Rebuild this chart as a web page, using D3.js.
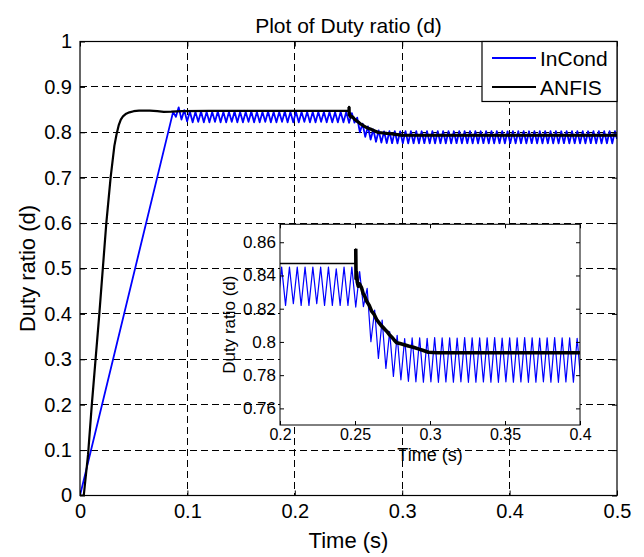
<!DOCTYPE html>
<html><head><meta charset="utf-8">
<script src="https://cdn.jsdelivr.net/npm/d3@7"></script>
<style>
body{margin:0;background:#fff}
text{font-family:"Liberation Sans",Arial,Helvetica,sans-serif;fill:#000}
</style>
</head><body>
<svg id="c" width="644" height="557"></svg>
<script>
// ---------------- data ----------------
const xTicks = [0, 0.1, 0.2, 0.3, 0.4, 0.5];
const xTickLabels = ["0", "0.1", "0.2", "0.3", "0.4", "0.5"];
const yTicks = [0, 0.1, 0.2, 0.3, 0.4, 0.5, 0.6, 0.7, 0.8, 0.9, 1];
const yTickLabels = ["0", "0.1", "0.2", "0.3", "0.4", "0.5", "0.6", "0.7", "0.8", "0.9", "1"];
const insetXTicks = [0.2, 0.25, 0.3, 0.35, 0.4];
const insetXTickLabels = ["0.2", "0.25", "0.3", "0.35", "0.4"];
const insetYTicks = [0.76, 0.78, 0.8, 0.82, 0.84, 0.86];
const insetYTickLabels = ["0.76", "0.78", "0.8", "0.82", "0.84", "0.86"];
const seriesNames = ["InCond", "ANFIS"];

// ANFIS duty ratio
const anfisT = [0, 0.0035, 0.0075, 0.011, 0.018, 0.0245, 0.0285, 0.032, 0.034, 0.036,
  0.038, 0.040, 0.043, 0.046, 0.050, 0.055, 0.065, 0.072, 0.078, 0.085,
  0.095, 0.12, 0.15, 0.18, 0.21, 0.2485, 0.2503, 0.2505, 0.2507, 0.2510,
  0.2515, 0.2522, 0.2530, 0.2544, 0.2555, 0.2565, 0.2578, 0.2595, 0.2611, 0.2628,
  0.2644, 0.2661, 0.2678, 0.2695, 0.2711, 0.2728, 0.2744, 0.2761, 0.2778, 0.2800,
  0.2822, 0.2856, 0.2889, 0.2922, 0.2956, 0.2989, 0.3050, 0.35, 0.40, 0.45,
  0.50];
const anfisD = [0, 0, 0.09, 0.2, 0.4, 0.6, 0.7, 0.77, 0.795, 0.815,
  0.828, 0.835, 0.841, 0.844, 0.8465, 0.8476, 0.8476, 0.8465, 0.845, 0.8455,
  0.8468, 0.8472, 0.8472, 0.8472, 0.8472, 0.8472, 0.8472, 0.856, 0.838, 0.842,
  0.836, 0.8335, 0.835, 0.8325, 0.829, 0.8275, 0.8245, 0.822, 0.8185, 0.8165,
  0.8135, 0.8115, 0.8095, 0.808, 0.8065, 0.8045, 0.803, 0.8012, 0.7995, 0.799,
  0.7985, 0.7975, 0.7968, 0.7958, 0.7948, 0.7938, 0.7935, 0.7935, 0.7935, 0.7935,
  0.7935];

// InCond duty ratio (peaks / troughs of the oscillation)
const inCondT = [0,
  0.0867, 0.0893, 0.0919, 0.0945, 0.0971, 0.0997, 0.1023, 0.1049, 0.1075, 0.1101,
  0.1127, 0.1153, 0.1179, 0.1205, 0.1231, 0.1257, 0.1283, 0.1309, 0.1335, 0.1361,
  0.1387, 0.1413, 0.1439, 0.1465, 0.1491, 0.1517, 0.1543, 0.1569, 0.1595, 0.1621,
  0.1647, 0.1673, 0.1699, 0.1725, 0.1751, 0.1777, 0.1803, 0.1829, 0.1855, 0.1881,
  0.1907, 0.1933, 0.1959, 0.1985, 0.2011, 0.2037, 0.2063, 0.2089, 0.2115, 0.2141,
  0.2167, 0.2193, 0.2219, 0.2245, 0.2271, 0.2297, 0.2323, 0.2349, 0.2375, 0.2401,
  0.2427, 0.2453, 0.2479, 0.2505,
  0.2531, 0.2556, 0.2581, 0.2606, 0.2631, 0.2656, 0.2681, 0.2706, 0.2731, 0.2756,
  0.2781, 0.2806, 0.2831, 0.2856, 0.2881, 0.2906, 0.2931, 0.2956, 0.2981, 0.3006,
  0.3031, 0.3056, 0.3081, 0.3106, 0.3131, 0.3156, 0.3181, 0.3206, 0.3231, 0.3256,
  0.3281, 0.3306, 0.3331, 0.3356, 0.3381, 0.3406, 0.3431, 0.3456, 0.3481, 0.3506,
  0.3531, 0.3556, 0.3581, 0.3606, 0.3631, 0.3656, 0.3681, 0.3706, 0.3731, 0.3756,
  0.3781, 0.3806, 0.3831, 0.3856, 0.3881, 0.3906, 0.3931, 0.3956, 0.3981, 0.4006,
  0.4031, 0.4056, 0.4081, 0.4106, 0.4131, 0.4156, 0.4181, 0.4206, 0.4231, 0.4256,
  0.4281, 0.4306, 0.4331, 0.4356, 0.4381, 0.4406, 0.4431, 0.4456, 0.4481, 0.4506,
  0.4531, 0.4556, 0.4581, 0.4606, 0.4631, 0.4656, 0.4681, 0.4706, 0.4731, 0.4756,
  0.4781, 0.4806, 0.4831, 0.4856, 0.4881, 0.4906, 0.4931, 0.4956, 0.4981, 0.5];
const inCondD = [0,
  0.845, 0.834, 0.855, 0.828, 0.849, 0.824, 0.846, 0.822, 0.845, 0.823,
  0.846, 0.822, 0.845, 0.822, 0.845, 0.823, 0.846, 0.822, 0.845, 0.822,
  0.845, 0.823, 0.846, 0.822, 0.845, 0.822, 0.845, 0.823, 0.846, 0.822,
  0.845, 0.822, 0.845, 0.823, 0.846, 0.822, 0.845, 0.822, 0.845, 0.823,
  0.846, 0.822, 0.845, 0.822, 0.845, 0.822, 0.845, 0.823, 0.845, 0.822,
  0.845, 0.822, 0.845, 0.823, 0.845, 0.822, 0.845, 0.822, 0.844, 0.822,
  0.845, 0.822, 0.845, 0.821,
  0.8423, 0.8212, 0.8323, 0.8001, 0.8192, 0.7901, 0.8132, 0.7841, 0.8062, 0.7792,
  0.8040, 0.7772, 0.8020, 0.7763, 0.8024, 0.7760,
  0.8025, 0.7758, 0.8022, 0.7760, 0.8026, 0.7757, 0.8024, 0.7759, 0.8025, 0.7758,
  0.8023, 0.7760, 0.8026, 0.7757, 0.8025, 0.7758, 0.8024, 0.7759, 0.8025, 0.7758,
  0.8026, 0.7757, 0.8023, 0.7760, 0.8025, 0.7758, 0.8024, 0.7759, 0.8026, 0.7757,
  0.8025, 0.7758, 0.8023, 0.7760, 0.8025, 0.7758, 0.8026, 0.7757, 0.8024, 0.7759,
  0.8025, 0.7758, 0.8022, 0.7760, 0.8026, 0.7757, 0.8024, 0.7759, 0.8025, 0.7758,
  0.8023, 0.7760, 0.8026, 0.7757, 0.8025, 0.7758, 0.8024, 0.7759, 0.8025, 0.7758,
  0.8026, 0.7757, 0.8023, 0.7760, 0.8025, 0.7758, 0.8024, 0.7759, 0.8026, 0.7757,
  0.8025, 0.7758, 0.8023, 0.7760, 0.8025, 0.7758, 0.8026, 0.7757, 0.8024, 0.7759,
  0.8025, 0.7758,
  0.8025, 0.785];

if (anfisT.length !== anfisD.length) throw new Error("anfis length " + anfisT.length + " vs " + anfisD.length);
if (inCondT.length !== inCondD.length) throw new Error("incond length " + inCondT.length + " vs " + inCondD.length);

// ---------------- chart ----------------
const svg = d3.select("#c");
svg.append("rect").attr("width", 644).attr("height", 557).attr("fill", "#fff");
const defs = svg.append("defs");

const M = {l: 80, r: 617, t: 41.5, b: 495.5};
const x = d3.scaleLinear().domain([0, 0.5]).range([M.l, M.r]);
const y = d3.scaleLinear().domain([0, 1]).range([M.b, M.t]);

const inCond = d3.zip(inCondT, inCondD);
const anfis = d3.zip(anfisT, anfisD);
const anfisLate = anfis.filter(d => d[0] >= 0.2505);

// grid
const grid = svg.append("g");
grid.selectAll("line.v").data(xTicks.slice(1, -1)).join("line").attr("class", "v")
  .attr("x1", d => x(d)).attr("x2", d => x(d)).attr("y1", M.t).attr("y2", M.b);
grid.selectAll("line.h").data(yTicks.slice(1, -1)).join("line").attr("class", "h")
  .attr("x1", M.l).attr("x2", M.r).attr("y1", d => y(d)).attr("y2", d => y(d));
grid.selectAll("line").attr("stroke", "#000").attr("stroke-width", 1)
  .attr("stroke-dasharray", "7,4").attr("shape-rendering", "crispEdges");

defs.append("clipPath").attr("id", "mainClip").append("rect")
  .attr("x", M.l).attr("y", M.t).attr("width", M.r - M.l).attr("height", M.b - M.t);

const line = d3.line().x(d => x(d[0])).y(d => y(d[1]));
const plot = svg.append("g").attr("clip-path", "url(#mainClip)");
plot.append("path").datum(inCond).attr("d", line).attr("fill", "none")
  .attr("stroke", "#0000ff").attr("stroke-width", 1.8).attr("stroke-linejoin", "round");
plot.append("path").datum(anfis).attr("d", line).attr("fill", "none")
  .attr("stroke", "#000").attr("stroke-width", 2.2).attr("stroke-linejoin", "round");
plot.append("path").datum(anfisLate).attr("d", line).attr("fill", "none")
  .attr("stroke", "#000").attr("stroke-width", 3.2).attr("stroke-linejoin", "round");

// axes (ticks inside)
function styleAxis(g, fs) {
  g.select(".domain").remove();
  g.selectAll(".tick line").attr("stroke", "#000");
  g.selectAll(".tick text").attr("font-size", fs).attr("font-family", null).attr("fill", "#000");
}
svg.append("g").attr("transform", `translate(0,${M.b})`)
  .call(d3.axisBottom(x).tickValues(xTicks).tickFormat((d, i) => xTickLabels[i]).tickSize(-5).tickPadding(8))
  .call(g => styleAxis(g, 20));
svg.append("g").attr("transform", `translate(0,${M.t})`)
  .call(d3.axisTop(x).tickValues(xTicks).tickFormat("").tickSize(-5))
  .call(g => styleAxis(g, 20));
svg.append("g").attr("transform", `translate(${M.l},0)`)
  .call(d3.axisLeft(y).tickValues(yTicks).tickFormat((d, i) => yTickLabels[i]).tickSize(-5).tickPadding(8))
  .call(g => styleAxis(g, 20));
svg.append("g").attr("transform", `translate(${M.r},0)`)
  .call(d3.axisRight(y).tickValues(yTicks).tickFormat("").tickSize(-5))
  .call(g => styleAxis(g, 20));

svg.append("rect").attr("x", M.l).attr("y", M.t).attr("width", M.r - M.l).attr("height", M.b - M.t)
  .attr("fill", "none").attr("stroke", "#000").attr("stroke-width", 1.2);

// title and labels
svg.append("text").attr("x", (M.l + M.r) / 2).attr("y", 33).attr("text-anchor", "middle")
  .attr("font-size", 21).text("Plot of Duty ratio (d)");
svg.append("text").attr("x", (M.l + M.r) / 2).attr("y", 548).attr("text-anchor", "middle")
  .attr("font-size", 22).text("Time (s)");
svg.append("text").attr("transform", `translate(35,${(M.t + M.b) / 2}) rotate(-90)`)
  .attr("text-anchor", "middle").attr("font-size", 22).text("Duty ratio (d)");

// legend
const lg = svg.append("g");
lg.append("rect").attr("x", 482).attr("y", M.t).attr("width", M.r - 482).attr("height", 60)
  .attr("fill", "#fff").attr("stroke", "#000").attr("stroke-width", 1.2);
const legendColors = ["#0000ff", "#000"];
seriesNames.forEach((name, i) => {
  const yy = 58 + i * 29;
  lg.append("line").attr("x1", 492).attr("x2", 536).attr("y1", yy).attr("y2", yy)
    .attr("stroke", legendColors[i]).attr("stroke-width", 2);
  lg.append("text").attr("x", 540).attr("y", yy + 7.5).attr("font-size", 21).text(name);
});

// ---------------- inset ----------------
const I = {l: 280, r: 580, t: 224.3, b: 425};
const xi = d3.scaleLinear().domain([0.2, 0.4]).range([I.l, I.r]);
const yi = d3.scaleLinear().domain([0.75, 0.8708]).range([I.b, I.t]);

svg.append("rect").attr("x", I.l).attr("y", I.t).attr("width", I.r - I.l).attr("height", I.b - I.t)
  .attr("fill", "#fff");
defs.append("clipPath").attr("id", "insetClip").append("rect")
  .attr("x", I.l).attr("y", I.t).attr("width", I.r - I.l).attr("height", I.b - I.t);
const lineI = d3.line().x(d => xi(d[0])).y(d => yi(d[1]));
const ip = svg.append("g").attr("clip-path", "url(#insetClip)");
ip.append("path").datum(inCond).attr("d", lineI).attr("fill", "none")
  .attr("stroke", "#0000ff").attr("stroke-width", 1.2).attr("stroke-linejoin", "round");
ip.append("path").datum(anfis).attr("d", lineI).attr("fill", "none")
  .attr("stroke", "#000").attr("stroke-width", 1.5).attr("stroke-linejoin", "round");
ip.append("path").datum(anfisLate).attr("d", lineI).attr("fill", "none")
  .attr("stroke", "#000").attr("stroke-width", 3.6).attr("stroke-linejoin", "round");

svg.append("g").attr("transform", `translate(0,${I.b})`)
  .call(d3.axisBottom(xi).tickValues(insetXTicks).tickFormat((d, i) => insetXTickLabels[i]).tickSize(-4).tickPadding(4))
  .call(g => styleAxis(g, 16));
svg.append("g").attr("transform", `translate(0,${I.t})`)
  .call(d3.axisTop(xi).tickValues(insetXTicks).tickFormat("").tickSize(-4))
  .call(g => styleAxis(g, 16));
svg.append("g").attr("transform", `translate(${I.l},0)`)
  .call(d3.axisLeft(yi).tickValues(insetYTicks).tickFormat((d, i) => insetYTickLabels[i]).tickSize(-4).tickPadding(4))
  .call(g => styleAxis(g, 17));
svg.append("g").attr("transform", `translate(${I.r},0)`)
  .call(d3.axisRight(yi).tickValues(insetYTicks).tickFormat("").tickSize(-4))
  .call(g => styleAxis(g, 16));
svg.append("rect").attr("x", I.l).attr("y", I.t).attr("width", I.r - I.l).attr("height", I.b - I.t)
  .attr("fill", "none").attr("stroke", "#000").attr("stroke-width", 1);

svg.append("text").attr("x", (I.l + I.r) / 2).attr("y", 461).attr("text-anchor", "middle")
  .attr("font-size", 18).text("Time (s)");
svg.append("text").attr("transform", `translate(235,${(I.t + I.b) / 2}) rotate(-90)`)
  .attr("text-anchor", "middle").attr("font-size", 17).text("Duty ratio (d)");
</script>
</body></html>
